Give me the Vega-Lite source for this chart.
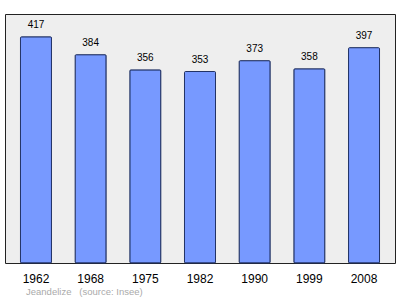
{
  "$schema": "https://vega.github.io/schema/vega-lite/v6.json",
  "width": 390,
  "height": 249,
  "autosize": {"type": "none"},
  "padding": {"left": 5, "top": 14, "right": 5, "bottom": 36},
  "background": "#ffffff",
  "config": {
    "view": {"fill": "#eeeeee", "stroke": "#222222", "strokeWidth": 1},
    "font": "Liberation Sans"
  },
  "title": {
    "text": "Jeandelize\u00a0\u00a0\u00a0(source: Insee)",
    "orient": "bottom",
    "anchor": "start",
    "dx": 21,
    "offset": 3,
    "fontSize": 9.5,
    "fontWeight": "normal",
    "color": "#aaaaaa",
    "font": "Liberation Sans"
  },
  "data": {
    "values": [
      {"year": "1962", "pop": 417},
      {"year": "1968", "pop": 384},
      {"year": "1975", "pop": 356},
      {"year": "1982", "pop": 353},
      {"year": "1990", "pop": 373},
      {"year": "1999", "pop": 358},
      {"year": "2008", "pop": 397}
    ]
  },
  "encoding": {
    "x": {
      "field": "year",
      "type": "ordinal",
      "scale": {"paddingInner": 0.433, "paddingOuter": 0.283},
      "axis": {"title": null, "labelAngle": 0, "domain": false, "ticks": false, "labelFontSize": 12, "labelColor": "#000000", "labelPadding": 10, "labelFont": "Liberation Sans"}
    },
    "y": {
      "field": "pop",
      "type": "quantitative",
      "scale": {"domain": [0, 459], "nice": false},
      "axis": null
    }
  },
  "layer": [
    {
      "mark": {"type": "bar", "fill": "#7799ff", "stroke": "#223366", "strokeWidth": 1, "cornerRadius": 1}
    },
    {
      "mark": {"type": "text", "dy": -12, "fontSize": 10, "color": "#000000", "font": "Liberation Sans"},
      "encoding": {"text": {"field": "pop", "type": "quantitative"}}
    }
  ]
}
